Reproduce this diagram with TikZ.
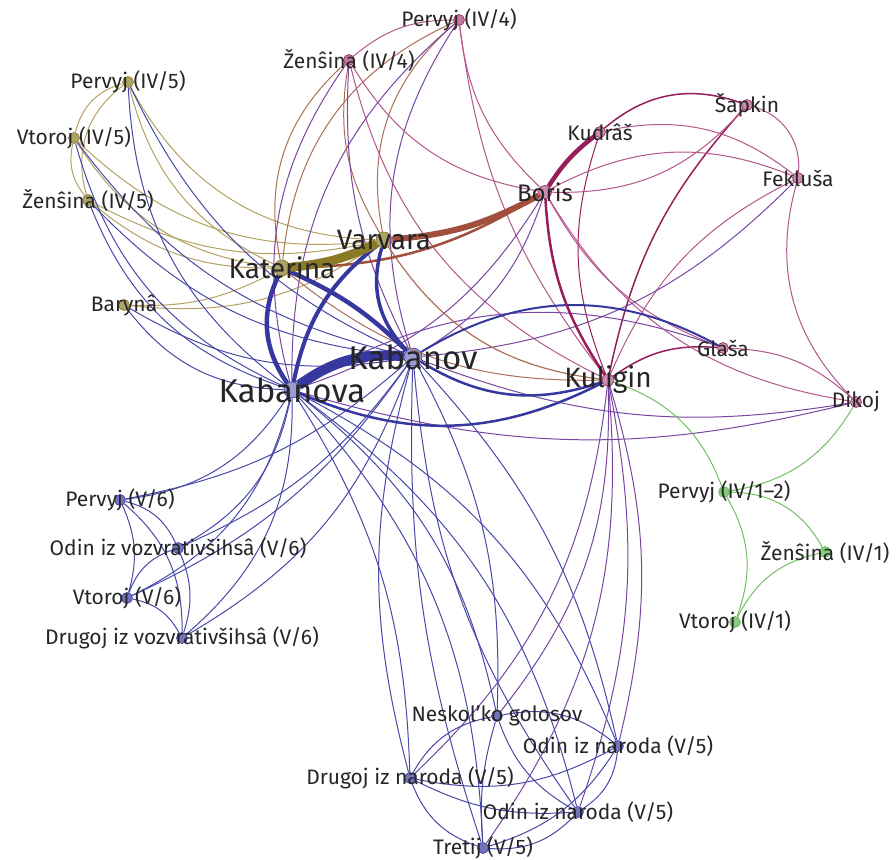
\documentclass[tikz,border=0pt]{standalone}
\usepackage{fontspec}
\setmainfont{Fira Sans}
\usetikzlibrary{positioning}

\definecolor{gold}{RGB}{138,122,38}
\definecolor{crim}{RGB}{150,30,90}
\definecolor{navy}{RGB}{55,55,160}
\definecolor{leaf}{RGB}{95,185,85}
\definecolor{rust}{RGB}{160,80,60}
\definecolor{goldL}{RGB}{180,160,95}
\definecolor{navyL}{RGB}{72,72,168}
\definecolor{plumL}{RGB}{120,70,160}
\definecolor{pinkL}{RGB}{180,85,140}
\definecolor{rustL}{RGB}{170,110,90}
\definecolor{leafL}{RGB}{115,190,100}

\begin{document}
\begin{tikzpicture}[x=1pt, y=1pt]
        \tikzstyle{role} = [circle, inner sep=0pt, minimum size=11pt, line width=0.6pt]
        \tikzstyle{roleName} = [inner sep=0pt, text=black!85, font=\fontsize{21}{23}\selectfont]
        \tikzstyle{midName} = [roleName, font=\fontsize{24}{26}\selectfont]
        \tikzstyle{bigName} = [roleName, font=\fontsize{28}{30}\selectfont]
        \tikzstyle{hugeName} = [roleName, font=\fontsize{33}{35}\selectfont]
        \tikzstyle{rel} = [line width=1pt]
        \useasboundingbox (0,0) rectangle (896,-859);

        % act IV, scene 4 / 5
        \node[role, draw=crim, fill=crim!60] (pervyjIV4) at (459,-20) {};
        \node[role, draw=crim, fill=crim!60] (zenshinaIV4) at (349,-60) {};
        \node[role, draw=gold, fill=gold!70] (pervyjIV5) at (128,-82) {};
        \node[role, draw=gold, fill=gold!70] (vtorojIV5) at (74,-138) {};
        \node[role, draw=gold, fill=gold!70] (zenshinaIV5) at (88,-200) {};
        \node[role, draw=gold, fill=gold!70] (baryna) at (124,-305) {};

        % main characters
        \node[role, draw=gold, fill=gold!70, minimum size=16pt] (katerina) at (282,-268) {};
        \node[role, draw=gold, fill=gold!70, minimum size=16pt] (varvara) at (384,-240) {};
        \node[role, draw=crim, fill=crim!50, minimum size=13pt] (boris) at (545,-192) {};
        \node[role, draw=crim, fill=crim!50] (kudrash) at (600,-132) {};
        \node[role, draw=crim, fill=crim!50] (shapkin) at (747,-105) {};
        \node[role, draw=crim, fill=crim!50] (feklusha) at (798,-178) {};
        \node[role, draw=navy, fill=navy!50, minimum size=18pt] (kabanov) at (413,-357) {};
        \node[role, draw=navy, fill=navy!50, minimum size=16pt] (kabanova) at (292,-390) {};
        \node[role, draw=crim, fill=crim!50, minimum size=12pt] (kuligin) at (608,-380) {};
        \node[role, draw=crim, fill=crim!50] (glasha) at (723,-348) {};
        \node[role, draw=crim, fill=crim!50] (dikoj) at (856,-402) {};

        % act IV, scene 1-2
        \node[role, draw=leaf, fill=leaf!75] (pervyjIV12) at (724,-492) {};
        \node[role, draw=leaf, fill=leaf!75] (zenshinaIV1) at (825,-552) {};
        \node[role, draw=leaf, fill=leaf!75] (vtorojIV1) at (735,-622) {};

        % act V, scene 6
        \node[role, draw=navy, fill=navy!70] (pervyjV6) at (120,-500) {};
        \node[role, draw=navy, fill=navy!70] (odinV6) at (178,-548) {};
        \node[role, draw=navy, fill=navy!70] (vtorojV6) at (127,-598) {};
        \node[role, draw=navy, fill=navy!70] (drugojV6) at (182,-638) {};

        % act V, scene 5
        \node[role, draw=navy, fill=navy!70] (neskolko) at (497,-716) {};
        \node[role, draw=navy, fill=navy!70] (odinNarodaA) at (618,-746) {};
        \node[role, draw=navy, fill=navy!70] (drugojNaroda) at (410,-778) {};
        \node[role, draw=navy, fill=navy!70] (odinNarodaB) at (578,-812) {};
        \node[role, draw=navy, fill=navy!70] (tretij) at (483,-848) {};

        % gold minor roles
        \draw[rel, goldL] (pervyjIV5) to[bend right=30] (vtorojIV5);
        \draw[rel, goldL] (pervyjIV5) to[bend right=35] (zenshinaIV5);
        \draw[rel, goldL] (vtorojIV5) to[bend right=25] (zenshinaIV5);
        \draw[rel, goldL] (pervyjIV5) to[bend right=30] (varvara);
        \draw[rel, goldL] (pervyjIV5) to[bend right=25] (katerina);
        \draw[rel, goldL] (vtorojIV5) to[bend right=25] (katerina);
        \draw[rel, goldL] (vtorojIV5) to[bend right=25] (varvara);
        \draw[rel, goldL] (zenshinaIV5) to[bend right=20] (katerina);
        \draw[rel, goldL] (zenshinaIV5) to[bend right=20] (varvara);
        \draw[rel, goldL] (baryna) to[bend right=15] (katerina);
        \draw[rel, goldL] (baryna) to[bend right=20] (varvara);
        \draw[rel, navyL] (pervyjIV5) to[bend right=25] (kabanova);
        \draw[rel, navyL] (vtorojIV5) to[bend right=25] (kabanova);
        \draw[rel, navyL] (zenshinaIV5) to[bend right=25] (kabanova);
        \draw[rel, navyL] (baryna) to[bend right=25] (kabanova);
        \draw[rel, navyL] (pervyjIV5) to[bend right=20] (kabanov);
        \draw[rel, navyL] (vtorojIV5) to[bend right=20] (kabanov);
        \draw[rel, navyL] (zenshinaIV5) to[bend right=20] (kabanov);
        \draw[rel, navyL] (baryna) to[bend right=20] (kabanov);

        % act IV, scene 4
        \draw[rel, pinkL] (pervyjIV4) to[bend right=20] (zenshinaIV4);
        \draw[rel, rustL] (pervyjIV4) to[bend right=30] (katerina);
        \draw[rel, rustL] (pervyjIV4) to[bend right=30] (varvara);
        \draw[rel, plumL] (pervyjIV4) to[bend right=25] (kabanova);
        \draw[rel, plumL] (pervyjIV4) to[bend right=25] (kabanov);
        \draw[rel, pinkL] (pervyjIV4) to[bend right=20] (boris);
        \draw[rel, pinkL] (pervyjIV4) to[bend right=15] (kuligin);
        \draw[rel, rustL] (zenshinaIV4) to[bend right=30] (katerina);
        \draw[rel, rustL] (zenshinaIV4) to[bend right=20] (varvara);
        \draw[rel, plumL] (zenshinaIV4) to[bend right=25] (kabanova);
        \draw[rel, plumL] (zenshinaIV4) to[bend right=15] (kabanov);
        \draw[rel, pinkL] (zenshinaIV4) to[bend right=25] (boris);
        \draw[rel, pinkL] (zenshinaIV4) to[bend right=25] (kuligin);

        % crimson group
        \draw[rel, crim, line width=1.5pt] (shapkin) to[bend right=15] (kuligin);
        \draw[rel, crim] (kudrash) to[bend right=20] (kuligin);
        \draw[rel, crim, line width=1.5pt] (shapkin) to[bend right=30] (kudrash);
        \draw[rel, pinkL] (feklusha) to[bend right=25] (kudrash);
        \draw[rel, pinkL] (feklusha) to[bend right=25] (boris);
        \draw[rel, pinkL] (boris) to[bend right=25] (shapkin);
        \draw[rel, pinkL] (feklusha) to[bend right=40] (shapkin);
        \draw[rel, pinkL] (feklusha) to[bend right=30] (dikoj);
        \draw[rel, pinkL] (feklusha) to[bend right=20] (kuligin);
        \draw[rel, crim, line width=1.5pt] (glasha) to[bend right=20] (kuligin);
        \draw[rel, pinkL] (dikoj) to[bend right=20] (glasha);
        \draw[rel, pinkL] (boris) to[bend right=25] (dikoj);
        \draw[rel, pinkL] (boris) to[bend right=20] (glasha);
        \draw[rel, plumL] (kabanova) to[bend right=20] (boris);
        \draw[rel, plumL] (kabanov) to[bend right=20] (boris);
        \draw[rel, plumL] (kabanov) to[bend right=20] (feklusha);
        \draw[rel, plumL] (glasha) to[bend right=25] (kabanova);
        \draw[rel, plumL] (kabanova) to[bend right=15] (dikoj);
        \draw[rel, plumL] (kabanov) to[bend right=15] (dikoj);
        \draw[rel, rustL, line width=1.2pt] (varvara) to[bend right=25] (kuligin);
        \draw[rel, rustL] (katerina) to[bend right=20] (kuligin);

        % act IV, scene 1-2
        \draw[rel, leafL] (pervyjIV12) to[bend right=25] (kuligin);
        \draw[rel, leafL] (pervyjIV12) to[bend right=25] (dikoj);
        \draw[rel, leafL] (zenshinaIV1) to[bend right=30] (pervyjIV12);
        \draw[rel, leafL] (vtorojIV1) to[bend right=25] (pervyjIV12);
        \draw[rel, leafL] (zenshinaIV1) to[bend right=25] (vtorojIV1);

        % act V, scene 6
        \draw[rel, navyL] (pervyjV6) to[bend right=25] (kabanova);
        \draw[rel, navyL] (odinV6) to[bend right=25] (kabanova);
        \draw[rel, navyL] (vtorojV6) to[bend right=25] (kabanova);
        \draw[rel, navyL] (drugojV6) to[bend right=25] (kabanova);
        \draw[rel, navyL] (pervyjV6) to[bend right=15] (kabanov);
        \draw[rel, navyL] (odinV6) to[bend right=15] (kabanov);
        \draw[rel, navyL] (vtorojV6) to[bend right=15] (kabanov);
        \draw[rel, navyL] (drugojV6) to[bend right=20] (kabanov);
        \draw[rel, navyL] (odinV6) to[bend right=25] (pervyjV6);
        \draw[rel, navyL] (vtorojV6) to[bend right=20] (pervyjV6);
        \draw[rel, navyL] (drugojV6) to[bend right=25] (pervyjV6);
        \draw[rel, navyL] (odinV6) to[bend right=25] (vtorojV6);
        \draw[rel, navyL] (drugojV6) to[bend right=20] (odinV6);
        \draw[rel, navyL] (drugojV6) to[bend right=25] (vtorojV6);

        % act V, scene 5
        \draw[rel, navyL] (neskolko) to[bend right=20] (kabanova);
        \draw[rel, navyL] (odinNarodaA) to[bend right=20] (kabanova);
        \draw[rel, navyL] (drugojNaroda) to[bend right=15] (kabanova);
        \draw[rel, navyL] (odinNarodaB) to[bend right=20] (kabanova);
        \draw[rel, navyL] (tretij) to[bend right=20] (kabanova);
        \draw[rel, navyL] (kabanov) to[bend right=15] (drugojNaroda);
        \draw[rel, navyL] (kabanov) to[bend right=10] (tretij);
        \draw[rel, navyL] (neskolko) to[bend right=15] (kabanov);
        \draw[rel, navyL] (kabanov) to[bend right=15] (odinNarodaB);
        \draw[rel, navyL] (odinNarodaA) to[bend right=15] (kabanov);
        \draw[rel, plumL] (neskolko) to[bend right=20] (kuligin);
        \draw[rel, plumL] (odinNarodaA) to[bend right=15] (kuligin);
        \draw[rel, plumL] (drugojNaroda) to[bend right=20] (kuligin);
        \draw[rel, plumL] (odinNarodaB) to[bend right=15] (kuligin);
        \draw[rel, plumL] (tretij) to[bend right=20] (kuligin);
        \draw[rel, navyL] (neskolko) to[bend right=25] (drugojNaroda);
        \draw[rel, navyL] (odinNarodaA) to[bend right=25] (neskolko);
        \draw[rel, navyL] (neskolko) to[bend right=20] (odinNarodaB);
        \draw[rel, navyL] (neskolko) to[bend right=10] (tretij);
        \draw[rel, navyL] (drugojNaroda) to[bend right=20] (odinNarodaA);
        \draw[rel, navyL] (drugojNaroda) to[bend right=25] (tretij);
        \draw[rel, navyL] (drugojNaroda) to[bend right=15] (odinNarodaB);
        \draw[rel, navyL] (odinNarodaB) to[bend right=25] (odinNarodaA);
        \draw[rel, navyL] (tretij) to[bend right=25] (odinNarodaB);
        \draw[rel, navyL] (tretij) to[bend right=20] (odinNarodaA);

        % strongest ties
        \draw[rel, navy, line width=2pt] (glasha) to[bend right=30] (kabanov);
        \draw[rel, navy, line width=2.5pt] (kabanova) to[bend right=25] (kuligin);
        \draw[rel, navy, line width=2.5pt] (kabanov) to[bend right=25] (kuligin);
        \draw[rel, crim, line width=2.5pt] (boris) to[bend right=15] (kuligin);
        \draw[rel, crim, line width=4.5pt] (kudrash) to[bend right=10] (boris);
        \draw[rel, rust, line width=2.5pt] (katerina) to[bend right=15] (boris);
        \draw[rel, rust, line width=6pt] (varvara) to[bend right=12] (boris);
        \draw[rel, navy, line width=4.5pt] (katerina) to[bend right=30] (kabanova);
        \draw[rel, navy, line width=4.5pt] (kabanov) to[bend right=10] (katerina);
        \draw[rel, navy, line width=4pt] (varvara) to[bend right=20] (kabanova);
        \draw[rel, navy, line width=3.5pt] (varvara) to[bend right=30] (kabanov);
        \draw[rel, navy, line width=10pt] (kabanov) to[bend right=20] (kabanova);
        \draw[rel, gold, line width=9pt] (katerina) to[bend right=10] (varvara);

        % names
        \node[roleName] (pervyjIV4Label) at (pervyjIV4) {Pervyj (IV/4)};
        \node[roleName] (zenshinaIV4Label) at (zenshinaIV4) {Ženŝina (IV/4)};
        \node[roleName] (pervyjIV5Label) at (pervyjIV5) {Pervyj (IV/5)};
        \node[roleName] (vtorojIV5Label) at (vtorojIV5) {Vtoroj (IV/5)};
        \node[roleName] (zenshinaIV5Label) at (zenshinaIV5) {Ženŝina (IV/5)};
        \node[roleName] (barynaLabel) at (baryna) {Barynâ};
        \node[bigName] (katerinaLabel) at (katerina) {Katerina};
        \node[bigName] (varvaraLabel) at (varvara) {Varvara};
        \node[midName] (borisLabel) at (boris) {Boris};
        \node[roleName] (kudrashLabel) at (kudrash) {Kudrâš};
        \node[roleName] (shapkinLabel) at (shapkin) {Šapkin};
        \node[roleName] (feklushaLabel) at (feklusha) {Fekluša};
        \node[hugeName] (kabanovLabel) at (kabanov) {Kabanov};
        \node[hugeName] (kabanovaLabel) at (kabanova) {Kabanova};
        \node[bigName] (kuliginLabel) at (kuligin) {Kuligin};
        \node[roleName] (glashaLabel) at (glasha) {Glaša};
        \node[roleName] (dikojLabel) at (dikoj) {Dikoj};
        \node[roleName] (pervyjIV12Label) at (pervyjIV12) {Pervyj (IV/1–2)};
        \node[roleName] (zenshinaIV1Label) at (zenshinaIV1) {Ženŝina (IV/1)};
        \node[roleName] (vtorojIV1Label) at (vtorojIV1) {Vtoroj (IV/1)};
        \node[roleName] (pervyjV6Label) at (pervyjV6) {Pervyj (V/6)};
        \node[roleName] (odinV6Label) at (odinV6) {Odin iz vozvrativšihsâ (V/6)};
        \node[roleName] (vtorojV6Label) at (vtorojV6) {Vtoroj (V/6)};
        \node[roleName] (drugojV6Label) at (drugojV6) {Drugoj iz vozvrativšihsâ (V/6)};
        \node[roleName] (neskolkoLabel) at (neskolko) {Neskol'ko golosov};
        \node[roleName] (odinNarodaALabel) at (odinNarodaA) {Odin iz naroda (V/5)};
        \node[roleName] (drugojNarodaLabel) at (drugojNaroda) {Drugoj iz naroda (V/5)};
        \node[roleName] (odinNarodaBLabel) at (odinNarodaB) {Odin iz naroda (V/5)};
        \node[roleName] (tretijLabel) at (tretij) {Tretij (V/5)};
\end{tikzpicture}
\end{document}
